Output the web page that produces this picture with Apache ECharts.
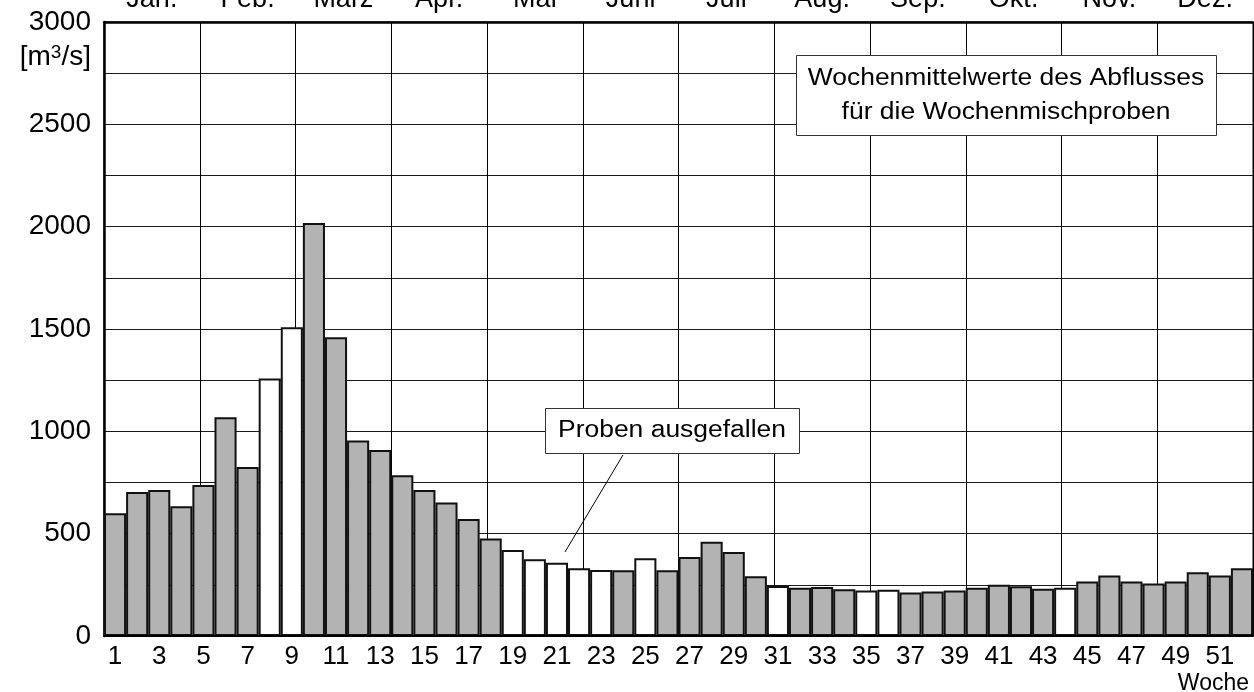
<!DOCTYPE html>
<html>
<head>
<meta charset="utf-8">
<script src="https://cdn.jsdelivr.net/npm/echarts@6/dist/echarts.min.js"></script>
<style>
html,body{margin:0;padding:0;background:#fff;}
#chart{width:1254px;height:692px;}
</style>
</head>
<body>
<div id="chart"></div>
<script>
var weeks = [];
for (var i = 1; i <= 52; i++) weeks.push(String(i));
var months = ['Jan.', 'Feb.', 'März', 'Apr.', 'Mai', 'Juni', 'Juli', 'Aug.', 'Sep.', 'Okt.', 'Nov.', 'Dez.'];
var flow = [600, 704, 713, 634, 738, 1069, 826, 1258, 1508, 2018,
            1460, 955, 909, 785, 713, 652, 572, 476, 420, 375,
            358, 331, 323, 321, 380, 321, 386, 461, 410, 292,
            244, 236, 239, 228, 222, 226, 213, 218, 222, 236,
            251, 243, 231, 236, 266, 295, 266, 256, 266, 311,
            295, 331];
var missingWeeks = [8, 9, 19, 20, 21, 22, 23, 25, 31, 35, 36, 44];

var FONT = 'Liberation Sans, Arial, Helvetica, sans-serif';
var barData = flow.map(function (v, i) {
  var missing = missingWeeks.indexOf(i + 1) >= 0;
  return { value: v, itemStyle: { color: missing ? '#ffffff' : '#b3b3b3' } };
});

var chart = echarts.init(document.getElementById('chart'), null, { renderer: 'canvas' });
chart.setOption({
  animation: false,
  backgroundColor: '#ffffff',
  textStyle: { fontFamily: FONT },
  grid: {
    left: 104, right: 1, top: 22, bottom: 56,
    containLabel: false, outerBoundsMode: 'none',
    show: true, borderColor: '#000', borderWidth: 1, backgroundColor: 'transparent'
  },
  xAxis: [
    {
      type: 'category',
      data: weeks,
      position: 'bottom',
      boundaryGap: true,
      axisLine: { lineStyle: { color: '#000', width: 2 } },
      axisTick: { show: false },
      axisLabel: { interval: 1, fontSize: 26, color: '#000', margin: 8, fontFamily: FONT },
      splitLine: { show: false },
      z: 5
    },
    {
      type: 'category',
      data: months,
      position: 'top',
      boundaryGap: true,
      axisLine: { lineStyle: { color: '#000', width: 2.5 } },
      axisTick: { show: false },
      axisLabel: { interval: 0, fontSize: 27, color: '#000', margin: 22, verticalAlign: 'middle', fontFamily: FONT },
      splitLine: { show: true, interval: 0, lineStyle: { color: '#000', width: 1 } }
    }
  ],
  yAxis: {
    type: 'value',
    min: 0,
    max: 3000,
    interval: 250,
    axisLine: { show: true, lineStyle: { color: '#000', width: 2.5 } },
    axisTick: { show: false },
    axisLabel: {
      fontSize: 28, color: '#000', margin: 13, fontFamily: FONT,
      formatter: function (v) { return v % 500 === 0 ? String(v) : ''; }
    },
    splitLine: { show: true, lineStyle: { color: '#1a1a1a', width: 1 } }
  },
  series: [{
    type: 'bar',
    xAxisIndex: 0,
    data: barData,
    barCategoryGap: '0%',
    itemStyle: { borderColor: '#111', borderWidth: 2 }
  }],
  graphic: [
    {
      type: 'text', x: 91, y: 57,
      style: {
        text: '[m{sup|3}/s]', fontSize: 28, fontFamily: FONT, fill: '#000', align: 'right', verticalAlign: 'middle',
        rich: { sup: { fontSize: 19, fontFamily: FONT, verticalAlign: 'top', fill: '#000', padding: [0, 0, 8, 0] } }
      }
    },
    {
      type: 'text', x: 1249, y: 684,
      style: { text: 'Woche', fontSize: 23, fontFamily: FONT, fill: '#000', align: 'right', verticalAlign: 'middle' }
    },
    {
      type: 'rect', shape: { x: 796.5, y: 55.5, width: 420, height: 80 },
      style: { fill: '#fff', stroke: '#333', lineWidth: 1 }, z: 100
    },
    {
      type: 'text', x: 1006, y: 96, z: 101, scaleX: 1.15,
      style: {
        text: 'Wochenmittelwerte des Abflusses\nfür die Wochenmischproben',
        fontSize: 23, lineHeight: 34, fontFamily: FONT, fill: '#000', align: 'center', verticalAlign: 'middle'
      }
    },
    {
      type: 'rect', shape: { x: 545.5, y: 408.5, width: 254, height: 45 },
      style: { fill: '#fff', stroke: '#333', lineWidth: 1 }, z: 100
    },
    {
      type: 'text', x: 672, y: 431, z: 101, scaleX: 1.15,
      style: { text: 'Proben ausgefallen', fontSize: 23, fontFamily: FONT, fill: '#000', align: 'center', verticalAlign: 'middle' }
    },
    {
      type: 'line', shape: { x1: 623, y1: 455, x2: 565, y2: 552 }, z: 100,
      style: { stroke: '#000', lineWidth: 1 }
    }
  ]
});
</script>
</body>
</html>
